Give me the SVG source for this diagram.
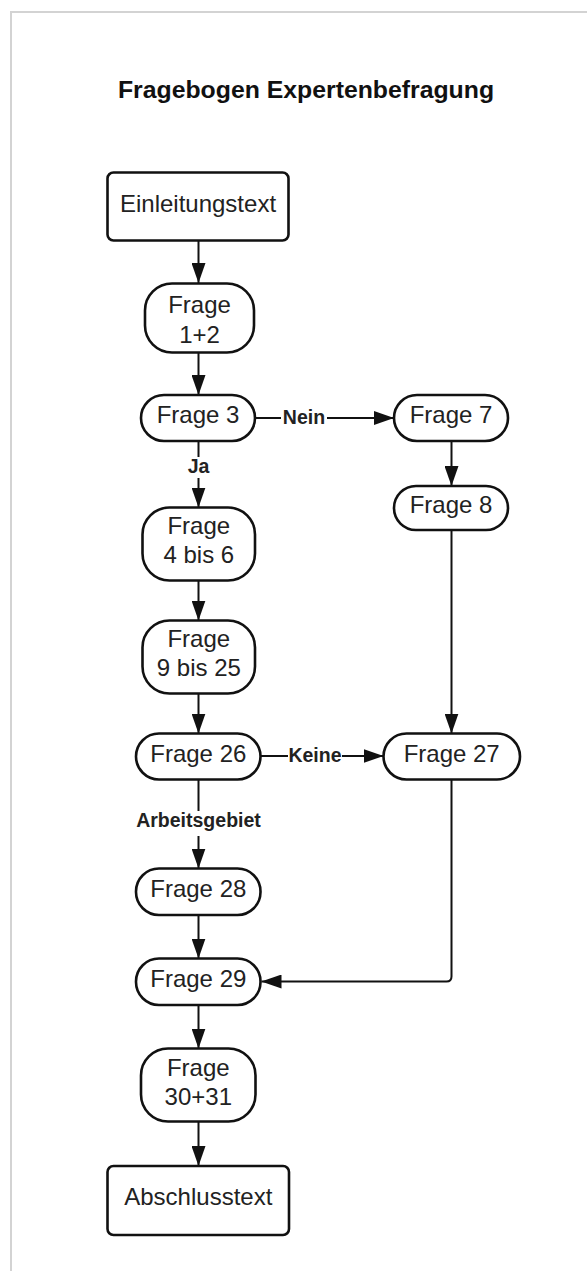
<svg xmlns="http://www.w3.org/2000/svg" width="587" height="1271" viewBox="0 0 587 1271">
<style>
.n{fill:#fff;stroke:#111;stroke-width:2.6}
.t{font-family:"Liberation Sans",Arial,sans-serif;font-size:24px;fill:#222;text-anchor:middle}
.l{font-family:"Liberation Sans",Arial,sans-serif;font-size:19.5px;font-weight:bold;fill:#222;text-anchor:middle}
.c{fill:none;stroke:#111;stroke-width:2}
</style>
<defs>
<marker id="ah" markerUnits="userSpaceOnUse" markerWidth="20" markerHeight="14" viewBox="0 0 20 14" refX="20" refY="7" orient="auto">
<path d="M0,0 L20,7 L0,14 Z" fill="#111"/>
</marker>
</defs>
<rect width="587" height="1271" fill="#fff"/>
<path d="M11,1271 V12 H587" fill="none" stroke="#d3d3d3" stroke-width="2"/>
<text x="306" y="98" font-family="Liberation Sans, Arial, sans-serif" font-size="24.8" font-weight="bold" fill="#111" text-anchor="middle">Fragebogen Expertenbefragung</text>

<g id="connectors">
<path class="c" d="M198.5,241 V283" marker-end="url(#ah)"/>
<path class="c" d="M198.5,353 V395" marker-end="url(#ah)"/>
<path class="c" d="M198.5,441 V457"/>
<text class="l" x="198.5" y="473">Ja</text>
<path class="c" d="M198.5,478 V507.5" marker-end="url(#ah)"/>
<path class="c" d="M255,418 H281"/>
<text class="l" x="304" y="424">Nein</text>
<path class="c" d="M327,418 H394" marker-end="url(#ah)"/>
<path class="c" d="M451.5,441 V486" marker-end="url(#ah)"/>
<path class="c" d="M451.5,530 V733.5" marker-end="url(#ah)"/>
<path class="c" d="M198.5,580 V620.5" marker-end="url(#ah)"/>
<path class="c" d="M198.5,693.5 V733.5" marker-end="url(#ah)"/>
<path class="c" d="M260.5,756 H288"/>
<text class="l" x="315" y="762">Keine</text>
<path class="c" d="M342,756 H383.5" marker-end="url(#ah)"/>
<path class="c" d="M198.5,779.5 V811"/>
<text class="l" x="198.5" y="827">Arbeitsgebiet</text>
<path class="c" d="M198.5,836 V868.5" marker-end="url(#ah)"/>
<path class="c" d="M198.5,915 V958.5" marker-end="url(#ah)"/>
<path class="c" d="M451.5,779.5 V976.5 Q451.5,981.5 446.5,981.5 H261.5" marker-end="url(#ah)"/>
<path class="c" d="M198.5,1005 V1048.5" marker-end="url(#ah)"/>
<path class="c" d="M198.5,1122 V1166" marker-end="url(#ah)"/>
</g>

<g id="einleitung"><rect class="n" x="107.5" y="172.5" width="181" height="68" rx="6"/><text class="t" x="198" y="212">Einleitungstext</text></g>
<g id="frage12"><rect class="n" x="145" y="283.5" width="109" height="69" rx="27"/><text class="t" x="199.5" y="313">Frage</text><text class="t" x="199.5" y="343">1+2</text></g>
<g id="frage3"><rect class="n" x="141" y="395" width="114" height="46" rx="23"/><text class="t" x="198" y="423">Frage 3</text></g>
<g id="frage7"><rect class="n" x="394" y="395" width="114" height="46" rx="23"/><text class="t" x="451" y="423">Frage 7</text></g>
<g id="frage8"><rect class="n" x="394" y="486" width="114" height="44" rx="22"/><text class="t" x="451" y="513">Frage 8</text></g>
<g id="frage4bis6"><rect class="n" x="142.5" y="507.5" width="112.5" height="73" rx="27"/><text class="t" x="198.8" y="534">Frage</text><text class="t" x="198.8" y="563">4 bis 6</text></g>
<g id="frage9bis25"><rect class="n" x="142.5" y="620.5" width="112.5" height="73" rx="27"/><text class="t" x="198.8" y="647">Frage</text><text class="t" x="198.8" y="676">9 bis 25</text></g>
<g id="frage26"><rect class="n" x="136" y="733.5" width="124.5" height="46" rx="23"/><text class="t" x="198.3" y="762">Frage 26</text></g>
<g id="frage27"><rect class="n" x="383.5" y="733.5" width="136.5" height="46" rx="23"/><text class="t" x="451.7" y="762">Frage 27</text></g>
<g id="frage28"><rect class="n" x="136" y="868.5" width="124.5" height="46.5" rx="23"/><text class="t" x="198.3" y="897">Frage 28</text></g>
<g id="frage29"><rect class="n" x="136" y="958.5" width="124.5" height="46.5" rx="23"/><text class="t" x="198.3" y="987">Frage 29</text></g>
<g id="frage3031"><rect class="n" x="141" y="1048.5" width="114.5" height="73" rx="27"/><text class="t" x="198.3" y="1076">Frage</text><text class="t" x="198.3" y="1105">30+31</text></g>
<g id="abschluss"><rect class="n" x="107.5" y="1166" width="181.5" height="69" rx="6"/><text class="t" x="198.3" y="1205">Abschlusstext</text></g>
</svg>
